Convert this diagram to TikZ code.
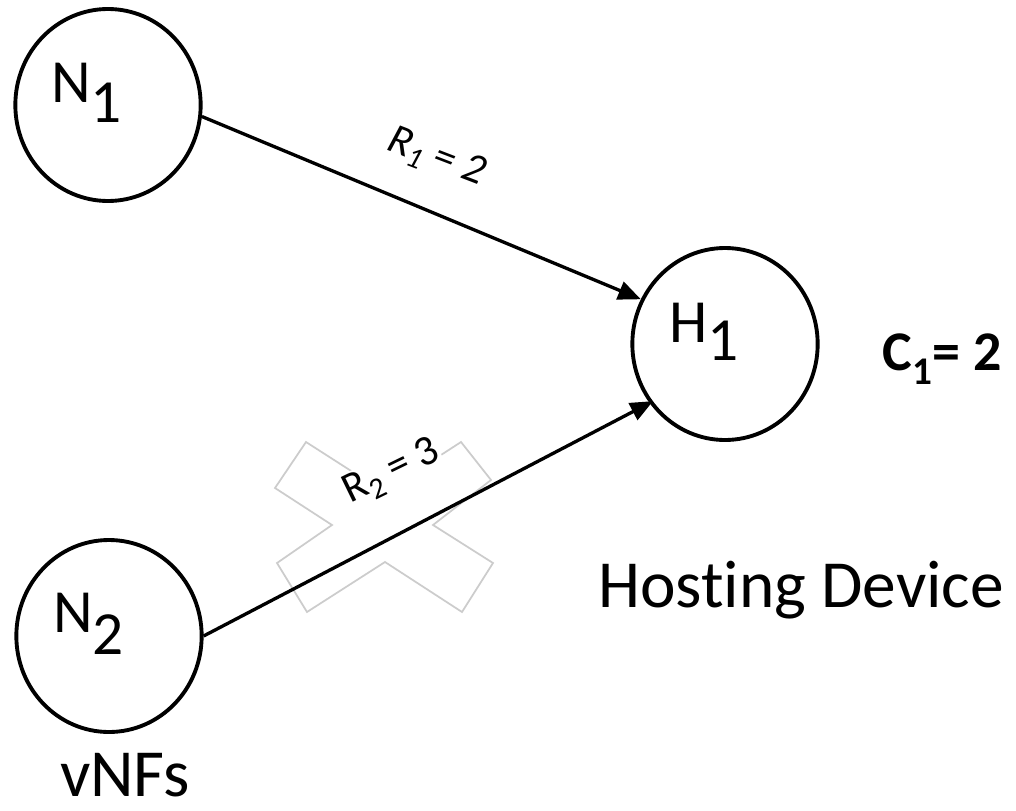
\documentclass[tikz,border=0pt]{standalone}
\usepackage{fontspec}
\setmainfont{Carlito}[Ligatures=NoCommon]
\usetikzlibrary{arrows.meta,shapes.geometric}

\begin{document}
\begin{tikzpicture}[x=0.75pt,y=-0.75pt,
  vnode/.style={ellipse, draw, line width=2.9pt, minimum width=139pt,
    minimum height=144pt, inner sep=0pt},
  nlabel/.style={anchor=base west, inner sep=0pt, font=\fontsize{46}{54}\selectfont},
  edge/.style={line width=2.5pt, -{Triangle[length=17pt,width=14pt]}},
  rlabel/.style={inner sep=1pt, fill=white, font=\fontsize{32}{38}\selectfont},
  bigtext/.style={anchor=base, inner sep=0pt, font=\fontsize{50.5}{60}\selectfont},
  crossmark/.style={draw=black!20, line width=1.3pt, line join=miter}
]
% canvas
\fill[white] (0,0) rectangle (1016,810);
\useasboundingbox (0,0) rectangle (1016,810);

% crossed-out mark behind the second link
\draw[crossmark] (306,442) -- (384,492) -- (461,442) -- (491,480) -- (433,525)
  -- (493,563) -- (462,612) -- (385,562) -- (307,612) -- (277,563)
  -- (332,525) -- (275,488) -- cycle;

% vNF nodes and hosting device
\node[vnode] (N1) at (108,105) {};
\node[vnode] (N2) at (109,636) {};
\node[vnode] (H1) at (725,344) {};

\node[nlabel] (n1txt) at (51,102) {N\raisebox{-0.33em}{1}};
\node[nlabel] (n2txt) at (53,632) {N\raisebox{-0.36em}{2}};
\node[nlabel] (h1txt) at (669,342) {H\raisebox{-0.3em}{1}};

% links
\draw[edge] (N1.-7) -- (H1.152);
\draw[edge, shorten >=-3pt] (N2.0) -- (H1.218);

% link rates
\node[rlabel, rotate=-21] (r1) at (436,158) {\textit{R\textsubscript{1} = 2}};
\node[rlabel, rotate=26] (r2) at (392,472) {R\textsubscript{2} = 3};

% capacity and captions
\node[anchor=base, inner sep=0pt, font=\bfseries\fontsize{42}{48}\selectfont] (cap)
  at (942,370) {C\textsubscript{1}= 2};
\node[bigtext] (host) at (801,607) {Hosting Device};
\node[bigtext] (vnfs) at (125,796) {vNFs};
\end{tikzpicture}
\end{document}
